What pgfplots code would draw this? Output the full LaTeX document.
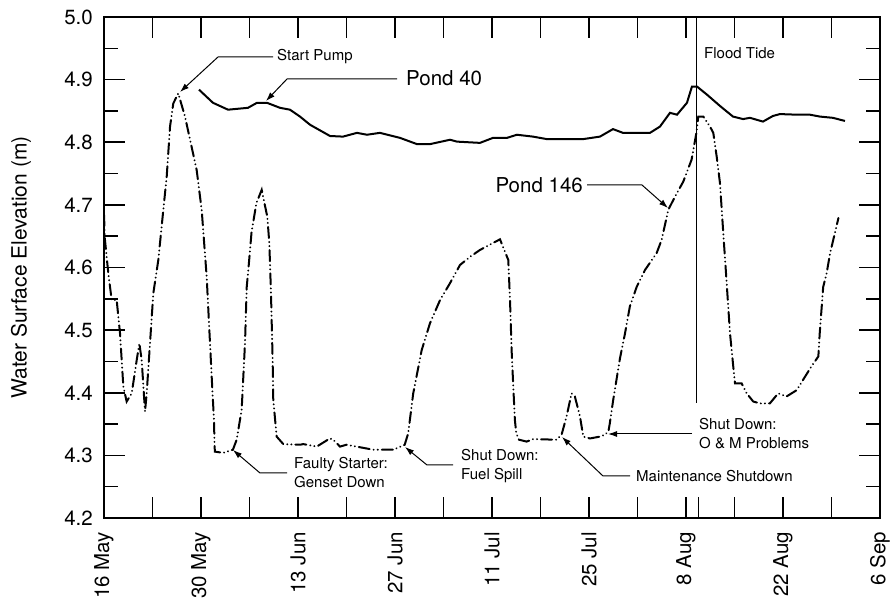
\documentclass[border=0pt]{standalone}
\usepackage{pgfplots}
\pgfplotsset{compat=1.18}
\usepackage{fontspec}
\setmainfont{TeX Gyre Heros}
\usetikzlibrary{arrows.meta}

\begin{document}
\begin{tikzpicture}
\useasboundingbox (0pt,0pt) rectangle (891pt,605pt);
\begin{axis}[
  at={(104pt,87pt)}, anchor=south west,
  scale only axis, width=776pt, height=501pt,
  xmin=0, xmax=112, ymin=4.2, ymax=5.0,
  xtick={0,7,...,112},
  xticklabels={16 May,,30 May,,13 Jun,,27 Jun,,11 Jul,,25 Jul,,8 Aug,,22 Aug,,6 Sep},
  ytick={4.2,4.3,4.4,4.5,4.6,4.7,4.8,4.9,5.0},
  yticklabels={4.2,4.3,4.4,4.5,4.6,4.7,4.8,4.9,5.0},
  minor ytick={4.25,4.35,4.45,4.55,4.65,4.75,4.85,4.95},
  major tick length=21pt, minor tick length=14pt,
  tick align=inside,
  every tick/.style={black, line width=1.6pt},
  axis line style={line width=2pt},
  xticklabel style={rotate=90, anchor=east, inner sep=0pt, font=\fontsize{20.5}{24}\selectfont},
  xticklabel shift=14pt,
  yticklabel style={anchor=east, inner sep=0pt, font=\fontsize{20.5}{24}\selectfont},
  yticklabel shift=11pt,
  ylabel={Water Surface Elevation (m)},
  ylabel style={at={(axis description cs:-0.107,0.5)}, anchor=center, font=\fontsize{21}{25}\selectfont},
]
% Pond 40
\addplot[black, line width=2pt] coordinates {
(13.71,4.884) (15.73,4.863) (17.90,4.852) (20.78,4.855) (22.08,4.863) (23.52,4.863)
(25.40,4.855) (26.84,4.852) (28.29,4.841) (29.73,4.828) (32.62,4.810) (34.49,4.809)
(36.51,4.815) (37.96,4.812) (39.83,4.815) (42.72,4.807) (45.17,4.797) (47.05,4.797)
(49.94,4.804) (50.95,4.801) (54.26,4.799) (56.14,4.807) (58.16,4.807) (59.60,4.812)
(61.91,4.809) (63.93,4.805) (66.82,4.805) (69.13,4.805) (71.58,4.809) (73.46,4.821)
(74.90,4.815) (76.35,4.815) (78.80,4.815) (80.24,4.825) (81.69,4.847) (82.70,4.844)
(84.14,4.863) (84.86,4.889) (85.58,4.889) (87.03,4.876) (88.90,4.858) (90.78,4.841)
(92.22,4.837) (93.23,4.839) (95.11,4.833) (96.55,4.842) (97.56,4.845) (100.01,4.844)
(101.89,4.844) (103.33,4.841) (105.21,4.839) (106.94,4.834)
};
% Pond 146
\addplot[black, line width=2pt, line cap=round,
  dash pattern=on 11pt off 4pt on 0.1pt off 4pt on 0.1pt off 4pt] coordinates {
(0.0,4.684) (0.14,4.644) (0.62,4.591) (1.11,4.548) (1.83,4.548) (2.31,4.495)
(2.79,4.410) (3.27,4.386) (4.0,4.399) (4.72,4.452) (5.1,4.479) (5.44,4.452)
(5.92,4.370) (6.16,4.399) (6.64,4.479) (7.12,4.559) (7.84,4.612) (8.56,4.692)
(9.05,4.745) (9.53,4.825) (10.0,4.862) (10.72,4.878) (11.69,4.841) (13.37,4.756)
(14.1,4.692) (14.82,4.585) (15.54,4.426) (15.87,4.357) (15.95,4.319) (16.0,4.306)
(17.2,4.304) (18.6,4.309) (19.15,4.325) (19.87,4.373) (20.35,4.479) (20.6,4.569)
(20.83,4.596) (21.3,4.657) (22.0,4.703) (22.76,4.724) (23.57,4.681) (23.86,4.639)
(24.1,4.559) (24.34,4.452) (24.43,4.389) (24.92,4.33) (25.88,4.318) (28.29,4.317)
(28.77,4.318) (30.7,4.314) (32.6,4.327) (33.1,4.325) (34.06,4.314) (35.0,4.317)
(38.87,4.309) (41.75,4.309) (43.4,4.317) (43.9,4.335) (44.63,4.399) (45.85,4.468)
(47.05,4.511) (48.5,4.548) (49.94,4.575) (51.38,4.604) (52.82,4.617) (54.26,4.628)
(57.15,4.645) (58.35,4.612) (58.6,4.548) (58.83,4.468) (59.07,4.410) (59.3,4.357)
(59.5,4.335) (59.9,4.325) (61.0,4.322) (61.95,4.326) (65.3,4.325) (66.04,4.333)
(66.76,4.362) (67.48,4.399) (67.96,4.394) (68.7,4.362) (69.17,4.33) (70.14,4.327)
(71.58,4.33) (72.3,4.333) (72.8,4.338) (73.0,4.351) (73.5,4.389) (74.47,4.455)
(75.2,4.495) (75.9,4.538) (76.88,4.569) (78.08,4.596) (79.76,4.623) (80.48,4.644)
(81.44,4.692) (82.4,4.713) (83.6,4.737) (84.8,4.772) (85.5,4.815) (85.77,4.841)
(86.5,4.841) (87.46,4.825) (87.94,4.815) (88.43,4.777) (88.9,4.735) (89.38,4.655)
(89.87,4.575) (90.35,4.495) (90.82,4.442) (91.07,4.415) (92.03,4.415) (92.76,4.399)
(93.7,4.386) (94.67,4.383) (96.1,4.383) (97.3,4.399) (98.5,4.394) (99.96,4.404)
(101.2,4.426) (102.1,4.442) (103.1,4.458) (103.3,4.495) (103.8,4.569) (104.3,4.591)
(104.8,4.623) (105.25,4.644) (106.0,4.679)
};
% flood tide marker
\draw[black, line width=1.1pt] (axis cs:85.5,5.0) -- (axis cs:85.5,4.384);
\draw[black, line width=1.1pt] (axis cs:85.8,4.2) -- (axis cs:85.8,4.233);
\end{axis}

% annotations
\tikzset{ann/.style={font=\fontsize{15}{19}\selectfont, inner sep=0pt, align=left},
         arr/.style={black, line width=1pt, -{Latex[length=9pt,width=6pt]}}}
\node[ann, anchor=west] at (277pt,548pt) {Start Pump};
\draw[arr] (273pt,548pt) -- (218pt,548pt) -- (180pt,513pt);
\node[anchor=west, inner sep=0pt, font=\fontsize{20.5}{24}\selectfont] at (406pt,527pt) {Pond 40};
\draw[arr] (397pt,526pt) -- (287pt,526pt) -- (266pt,504pt);
\node[anchor=east, inner sep=0pt, font=\fontsize{20.5}{24}\selectfont] at (583pt,420pt) {Pond 146};
\draw[arr] (587pt,420pt) -- (642pt,420pt) -- (668pt,397pt);
\node[ann, anchor=west] at (704pt,552pt) {Flood Tide};
\node[ann, anchor=west] at (294pt,132.5pt) {Faulty Starter:\\Genset Down};
\draw[arr] (287pt,132pt) -- (260pt,132pt) -- (233pt,155pt);
\node[ann, anchor=west] at (461pt,139pt) {Shut Down:\\Fuel Spill};
\draw[arr] (453pt,140pt) -- (427pt,140pt) -- (405pt,158pt);
\node[ann, anchor=west] at (636pt,129pt) {Maintenance Shutdown};
\draw[arr] (630pt,129pt) -- (603pt,129pt) -- (562pt,168pt);
\node[ann, anchor=west] at (699pt,171pt) {Shut Down:\\O \& M Problems};
\draw[arr] (692pt,171pt) -- (608pt,171pt);
\end{tikzpicture}
\end{document}
